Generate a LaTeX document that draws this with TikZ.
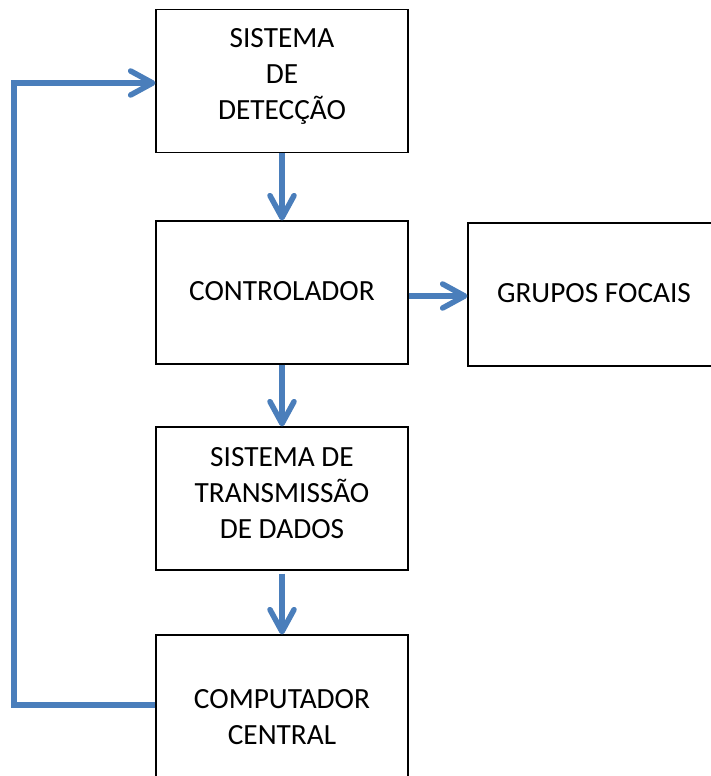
\documentclass[tikz,border=0pt]{standalone}
\usepackage{fontspec}
\setmainfont{Carlito}
\usetikzlibrary{arrows.meta}
\definecolor{flowblue}{HTML}{4A7EBB}
\begin{document}
\begin{tikzpicture}[x=1pt,y=-1pt,
  blockbox/.style={draw=black,line width=1.2pt,fill=white,minimum width=252pt,minimum height=143pt,inner sep=0pt},
  blocktext/.style={align=center,inner sep=0pt,font=\fontsize{29.3}{36}\selectfont},
  tip/.style={-{Straight Barb[length=22pt,width=24pt,round]}},
  flow/.style={draw=flowblue,line width=5.5pt,tip},
  loopline/.style={draw=flowblue,line width=5.5pt,line join=miter}]
  \useasboundingbox (0,0) rectangle (710,776);

  % blocks
  \node[blockbox] (det)  at (282,81)    {};
  \node[blockbox] (ctrl) at (282,292.5) {};
  \node[blockbox,minimum width=320pt] (foc) at (628,294.5) {};
  \node[blockbox] (tx)   at (282,498.5) {};
  \node[blockbox] (comp) at (282,706.5) {};

  % block labels
  \node[blocktext] (tdet)  at (282,76.5)  {SISTEMA\\DE\\DETECÇÃO};
  \node[blocktext] (tctrl) at (282,291.5) {CONTROLADOR};
  \node[blocktext] (tfoc)  at (594,293)   {GRUPOS FOCAIS};
  \node[blocktext] (ttx)   at (282,493)   {SISTEMA DE\\TRANSMISSÃO\\DE DADOS};
  \node[blocktext] (tcomp) at (282,717.5) {COMPUTADOR\\CENTRAL};

  % signal flow
  \draw[flow] (det.south) -- (ctrl.north);
  \draw[flow] (ctrl.south) -- (tx.north);
  \draw[flow] ([yshift=-3pt]tx.south) -- (comp.north);
  \draw[flow] ([yshift=-3.5pt]ctrl.east) -- ([yshift=-1.5pt]foc.west);

  % feedback path
  \coordinate (c1) at (14,705);
  \coordinate (c2) at (14,83);
  \draw[loopline,tip] ([yshift=1.5pt]comp.west) -- (c1) -- (c2)
    -- ([yshift=-2pt]det.west);
\end{tikzpicture}
\end{document}
